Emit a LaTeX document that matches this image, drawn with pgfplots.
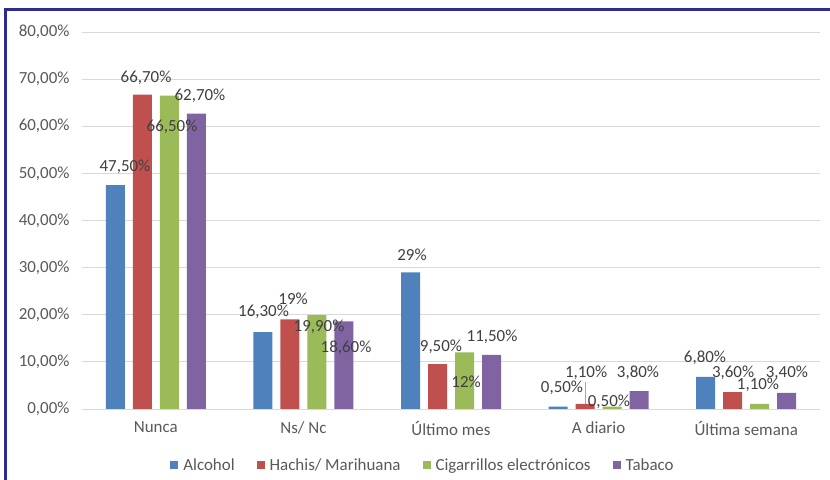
\documentclass[border=0pt]{standalone}
\usepackage{pgfplots}
\pgfplotsset{compat=1.18}
\usepackage{fontspec}
\setmainfont{Carlito}
\definecolor{cA}{HTML}{4F81BD}
\definecolor{cB}{HTML}{C0504D}
\definecolor{cC}{HTML}{9BBB59}
\definecolor{cD}{HTML}{8064A2}
\definecolor{framec}{HTML}{2E2D8C}
\definecolor{tickgray}{HTML}{595959}
\definecolor{labgray}{HTML}{404040}
\definecolor{gridgray}{HTML}{D9D9D9}
\tikzset{lbl/.style={font=\fontsize{17}{20}\selectfont, text=labgray, inner sep=0pt}}
\begin{document}
\begin{tikzpicture}
\path[use as bounding box] (0bp,0bp) rectangle (830bp,480bp);
\fill[white] (0bp,0bp) rectangle (830bp,480bp);
\draw[framec, line width=3bp] (5bp,0bp) -- (5bp,470bp) -- (830bp,470bp);
\begin{axis}[
  at={(82bp,71bp)}, anchor=south west,
  scale only axis, width=738bp, height=377bp,
  ybar=8bp, bar width=19bp,
  xmin=-0.5, xmax=4.5, ymin=0, ymax=80,
  xtick={0,1,2,3,4},
  xticklabels={Nunca, Ns/ Nc, Último mes, A diario, Última semana},
  ytick={0,10,20,30,40,50,60,70,80},
  yticklabels={{0,00\%},{10,00\%},{20,00\%},{30,00\%},{40,00\%},{50,00\%},{60,00\%},{70,00\%},{80,00\%}},
  ymajorgrids, grid style={gridgray, line width=1bp},
  axis line style={draw=none},
  major tick length=0pt,
  tick label style={font=\fontsize{17}{20}\selectfont, text=tickgray},
  yticklabel style={xshift=-9bp},
  xticklabel style={yshift=-9bp},
  legend columns=4,
  legend style={at={(0.462,-0.1485)}, anchor=center, draw=none, fill=none,
    font=\fontsize{17}{20}\selectfont, text=tickgray,
    /tikz/every odd column/.append style={column sep=3bp},
    /tikz/every even column/.append style={column sep=20bp}},
  legend image code/.code={\fill[#1] (0bp,-4bp) rectangle (8bp,4bp);},
]
\addplot[fill=cA, draw=none] coordinates {(0,47.5) (1,16.3) (2,29) (3,0.5) (4,6.8)};
\addplot[fill=cB, draw=none] coordinates {(0,66.7) (1,19) (2,9.5) (3,1.1) (4,3.6)};
\addplot[fill=cC, draw=none] coordinates {(0,66.5) (1,19.9) (2,12) (3,0.5) (4,1.1)};
\addplot[fill=cD, draw=none] coordinates {(0,62.7) (1,18.6) (2,11.5) (3,3.8) (4,3.4)};
\legend{Alcohol, Hachis/ Marihuana, Cigarrillos electrónicos, Tabaco}
\draw[gray!70, line width=0.7bp] (axis cs:2.908,1.1) -- (axis cs:2.908,5.8);
\node[lbl] at (axis cs:-0.209,51.35) {47,50\%};
\node[lbl] at (axis cs:-0.066,70.24) {66,70\%};
\node[lbl] at (axis cs:0.110,59.84) {66,50\%};
\node[lbl] at (axis cs:0.299,66.42) {62,70\%};
\node[lbl] at (axis cs:0.730,20.58) {16,30\%};
\node[lbl] at (axis cs:0.930,23.40) {19\%};
\node[lbl] at (axis cs:1.106,17.40) {19,90\%};
\node[lbl] at (axis cs:1.289,12.94) {18,60\%};
\node[lbl] at (axis cs:1.736,32.68) {29\%};
\node[lbl] at (axis cs:1.932,13.16) {9,50\%};
\node[lbl] at (axis cs:2.102,5.73) {12\%};
\node[lbl] at (axis cs:2.278,15.28) {11,50\%};
\node[lbl] at (axis cs:2.752,4.46) {0,50\%};
\node[lbl] at (axis cs:2.915,7.64) {1,10\%};
\node[lbl] at (axis cs:3.070,1.49) {0,50\%};
\node[lbl] at (axis cs:3.267,7.64) {3,80\%};
\node[lbl] at (axis cs:3.721,10.82) {6,80\%};
\node[lbl] at (axis cs:3.911,7.64) {3,60\%};
\node[lbl] at (axis cs:4.080,5.09) {1,10\%};
\node[lbl] at (axis cs:4.276,7.64) {3,40\%};
\end{axis}
\end{tikzpicture}
\end{document}
